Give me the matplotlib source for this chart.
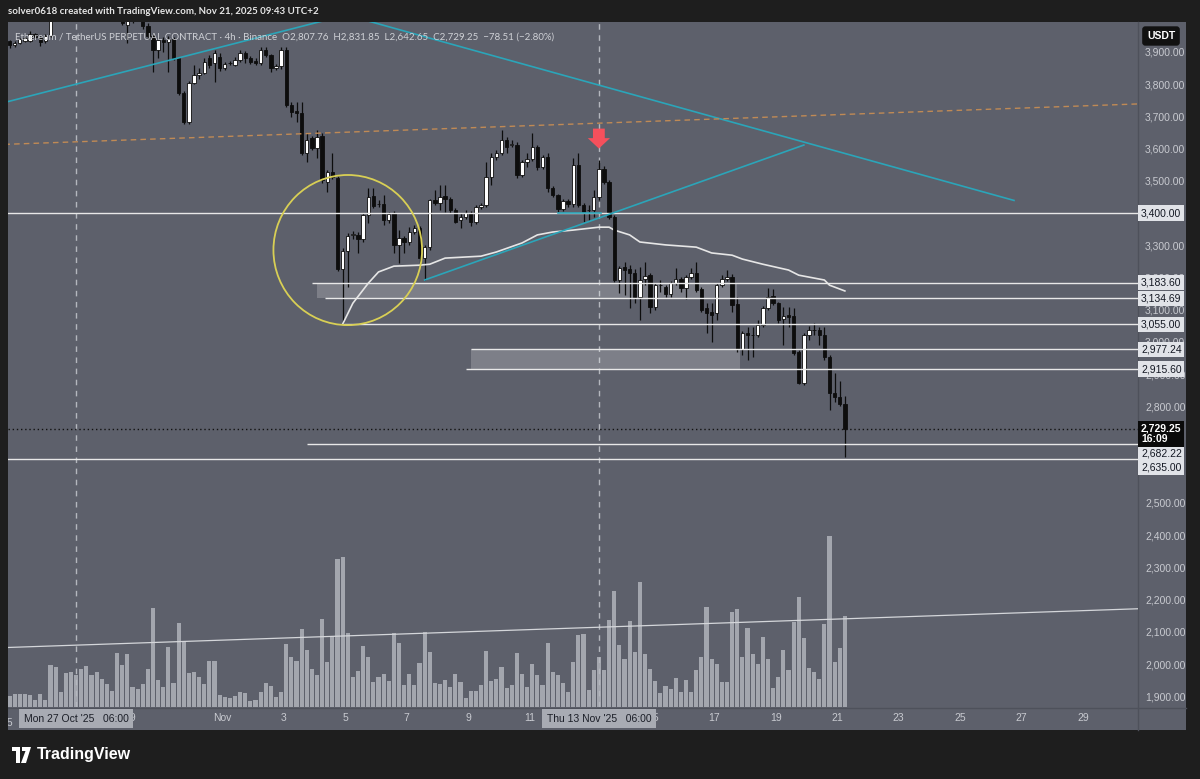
import numpy as np
import pandas as pd
import matplotlib.pyplot as plt
import matplotlib.transforms as mtransforms
from matplotlib.patches import Rectangle, Ellipse, Polygon

plt.rcParams['font.family'] = ['Liberation Sans', 'DejaVu Sans']

W, H = 1200, 779
BG = '#1e1e1e'
PANE = '#5d606b'
TXT = '#c8cad0'

# ETH/USDT perp, 4h candles, first bar opens Oct 25 02:00 (UTC+2)
start = pd.Timestamp('2025-10-25 02:00')
step = pd.Timedelta(hours=4)

open_ = [3933, 3921, 3927, 3935, 3935, 3955, 3945, 3933, 3949, 4015,
         4060, 4050, 4085, 4110, 4150, 4190, 4230, 4210, 4180, 4200,
         4170, 4140, 4090, 3985, 3996, 4040, 4025, 3980, 3950, 3907,
         3938, 3931, 3940, 3882, 3773, 3683, 3804, 3829, 3835, 3880,
         3866, 3885, 3851, 3866, 3860, 3876, 3897, 3882, 3872, 3866,
         3907, 3891, 3851, 3855, 3907, 3736, 3716, 3711, 3587, 3633,
         3602, 3639, 3496, 3527, 3509, 3226, 3282, 3332, 3332, 3319,
         3394, 3453, 3428, 3428, 3378, 3400, 3301, 3322, 3310, 3341,
         3353, 3260, 3294, 3440, 3431, 3453, 3444, 3409, 3378, 3388,
         3400, 3372, 3419, 3425, 3512, 3574, 3587, 3627, 3611, 3611,
         3518, 3559, 3568, 3605, 3543, 3574, 3478, 3456, 3412, 3437,
         3428, 3549, 3425, 3409, 3409, 3450, 3537, 3496, 3388, 3192,
         3232, 3226, 3213, 3139, 3195, 3207, 3108, 3176, 3170, 3148,
         3182, 3195, 3167, 3201, 3213, 3164, 3105, 3092, 3089, 3176,
         3195, 3201, 3117, 2977, 3027, 3021, 3021, 3052, 3105, 3142,
         3120, 3070, 3083, 3080, 2968, 2872, 3021, 3036, 3036, 3021,
         2952, 2840, 2828, 2807.76]
high = [3938, 3934, 3944, 3948, 3964, 3960, 3950, 3955, 4030, 4075,
        4090, 4100, 4130, 4165, 4210, 4250, 4245, 4220, 4215, 4210,
        4185, 4150, 4100, 4010, 4060, 4070, 4035, 3990, 3960, 3945,
        3945, 3948, 3945, 3885, 3780, 3810, 3860, 3850, 3880, 3890,
        3905, 3897, 3870, 3872, 3885, 3905, 3903, 3887, 3880, 3915,
        3915, 3895, 3862, 3916, 3915, 3745, 3745, 3745, 3649, 3640,
        3658, 3648, 3535, 3587, 3515, 3290, 3338, 3345, 3340, 3400,
        3478, 3478, 3440, 3456, 3403, 3405, 3347, 3330, 3356, 3362,
        3360, 3300, 3445, 3471, 3487, 3487, 3450, 3415, 3400, 3409,
        3405, 3425, 3432, 3559, 3585, 3595, 3658, 3635, 3627, 3620,
        3565, 3587, 3649, 3610, 3580, 3587, 3485, 3460, 3445, 3445,
        3571, 3587, 3430, 3425, 3471, 3565, 3545, 3503, 3395, 3235,
        3248, 3240, 3226, 3232, 3248, 3215, 3182, 3192, 3178, 3188,
        3229, 3200, 3207, 3229, 3248, 3170, 3120, 3120, 3182, 3207,
        3223, 3210, 3139, 3035, 3046, 3046, 3067, 3110, 3167, 3164,
        3125, 3108, 3108, 3105, 2975, 3027, 3049, 3058, 3046, 3046,
        2958, 2903, 2880, 2831.85]
low = [3913, 3916, 3924, 3932, 3930, 3940, 3918, 3928, 3945, 4005,
       4040, 4035, 4070, 4100, 4140, 4180, 4195, 4165, 4170, 4150,
       4120, 4080, 3985, 3928, 3990, 4010, 3970, 3940, 3838, 3880,
       3900, 3838, 3875, 3765, 3675, 3675, 3800, 3815, 3830, 3850,
       3807, 3840, 3845, 3860, 3855, 3870, 3866, 3862, 3860, 3860,
       3885, 3838, 3845, 3848, 3730, 3698, 3683, 3580, 3559, 3595,
       3571, 3493, 3465, 3505, 3220, 3055, 3170, 3320, 3276, 3310,
       3368, 3415, 3418, 3362, 3370, 3276, 3245, 3276, 3300, 3335,
       3245, 3192, 3285, 3425, 3409, 3403, 3400, 3368, 3353, 3380,
       3360, 3365, 3412, 3419, 3487, 3565, 3580, 3587, 3605, 3509,
       3512, 3543, 3562, 3534, 3537, 3465, 3450, 3403, 3405, 3420,
       3420, 3418, 3372, 3378, 3388, 3440, 3490, 3380, 3185, 3151,
       3145, 3105, 3120, 3067, 3176, 3089, 3100, 3154, 3140, 3140,
       3176, 3154, 3133, 3195, 3155, 3092, 3027, 2999, 3067, 3170,
       3190, 3092, 2968, 2960, 2943, 2952, 3015, 3045, 3100, 3114,
       3060, 2990, 3046, 2960, 2868, 2865, 3005, 3021, 2990, 2945,
       2788, 2812, 2800, 2642.65]
close = [3921, 3927, 3940, 3943, 3955, 3945, 3931, 3949, 4015, 4060,
         4050, 4085, 4110, 4150, 4190, 4230, 4210, 4180, 4200, 4170,
         4140, 4090, 3990, 3996, 4040, 4025, 3980, 3950, 3907, 3938,
         3931, 3940, 3882, 3773, 3683, 3804, 3829, 3835, 3869, 3860,
         3897, 3851, 3863, 3866, 3876, 3897, 3882, 3869, 3866, 3907,
         3891, 3851, 3855, 3907, 3736, 3714, 3711, 3587, 3627, 3602,
         3636, 3503, 3527, 3512, 3226, 3282, 3329, 3335, 3319, 3394,
         3450, 3422, 3428, 3378, 3397, 3301, 3322, 3310, 3341, 3353,
         3260, 3294, 3440, 3431, 3450, 3444, 3409, 3372, 3388, 3400,
         3372, 3419, 3425, 3512, 3574, 3587, 3627, 3605, 3615, 3518,
         3559, 3568, 3605, 3543, 3574, 3478, 3456, 3412, 3437, 3428,
         3549, 3425, 3403, 3409, 3450, 3537, 3496, 3388, 3192, 3229,
         3223, 3213, 3139, 3192, 3204, 3108, 3176, 3176, 3148, 3182,
         3195, 3167, 3201, 3213, 3161, 3098, 3089, 3083, 3176, 3195,
         3201, 3114, 2977, 3027, 3021, 3021, 3052, 3105, 3139, 3120,
         3067, 3080, 3077, 2965, 2872, 3021, 3036, 3036, 3021, 2952,
         2840, 2828, 2808, 2729.25]
volume_k = [10.7, 13, 13, 13, 12.3, 7.3, 13, 7.3, 42.3, 39.7,
            15, 34.3, 35, 32, 38.3, 40.7, 32, 35, 28.3, 23,
            16.3, 54.3, 42.3, 52.7, 20.3, 18.3, 23.3, 38.3, 99, 27.3,
            20.3, 60.3, 24.3, 84.3, 66.3, 34.3, 35, 30, 23.3, 46.3,
            46.3, 12.3, 10.3, 9, 11.3, 15.3, 14.3, 6.3, 7.3, 15.3,
            24.3, 21.3, 10.3, 15.3, 62.7, 49.7, 46.3, 78.3, 57, 38.3,
            32.3, 87.7, 44.7, 71, 147.7, 150.3, 74.3, 30, 36.3, 60.7,
            50.3, 25, 30, 32.7, 26, 73.7, 64, 22, 32.7, 22,
            43.7, 75, 55.3, 23.7, 22.7, 26.7, 20.3, 32.7, 25, 9,
            16, 16, 22, 56, 26, 28.3, 40.3, 19.3, 22, 54.3,
            33.3, 20.3, 43, 31.7, 22, 64, 35, 32, 24, 15.3,
            44.7, 72.3, 73, 17, 36.7, 50.3, 36.7, 87.3, 116.3, 62,
            48, 86.3, 55, 125.3, 53.3, 38, 26, 13.7, 21, 18,
            29, 14.7, 27.3, 15.3, 37.3, 49.7, 100, 48, 43, 25,
            25, 95, 98, 50.3, 79.3, 52.7, 43, 70, 48, 19.3,
            30, 57, 37.3, 85.3, 109.7, 69, 39, 35.3, 28.3, 83,
            171.3, 44.7, 58.7, 91.3]

# anchored vwap (bar index, value)
vwap_idx = [65, 67, 70, 72, 75, 80, 82, 85, 92, 95, 100, 103, 106, 110, 115,
            117, 118, 121, 123, 128, 134, 137, 141, 143, 147, 152, 154, 159, 160, 163]
vwap = [3055, 3120, 3182, 3217, 3235, 3238, 3241, 3260, 3266, 3279, 3307, 3332, 3341, 3347, 3356,
        3356, 3347, 3332, 3310, 3301, 3294, 3276, 3269, 3257, 3241, 3223, 3207, 3192, 3176, 3158]

# horizontal levels and where they were drawn from (None = whole chart)
levels = [3400.00, 3183.60, 3134.69, 3055.00, 2977.24, 2915.60, 2682.22, 2635.00]
level_from = [None, '2025-11-03 22:00', '2025-11-04 08:00', '2025-11-04 22:00',
              '2025-11-09 02:00', '2025-11-08 22:00', '2025-11-03 18:00', None]

teal_lines = [(('2025-10-25 00:00', 3745), ('2025-11-07 10:00', 4073)),
              (('2025-11-04 02:00', 4040), ('2025-11-26 18:00', 3439)),
              (('2025-11-07 14:00', 3192), ('2025-11-19 22:00', 3611)),
              (('2025-11-11 22:00', 3400), ('2025-11-13 08:00', 3400))]
orange_line = (('2025-10-24 22:00', 3613), ('2025-11-30 22:00', 3739))
vol_line = (('2025-10-24 22:00', 2051), ('2025-11-30 22:00', 2172))
zones = [('2025-11-04 02:00', '2025-11-17 18:00', 3137, 3183.6),
         ('2025-11-09 02:00', '2025-11-17 20:00', 2915.6, 2977.24)]
circle_center = ('2025-11-05 02:00', 3285)
circle_right = '2025-11-07 12:00'
circle_top = 3518
arrow_at = ('2025-11-13 06:00', 3600)
crosshairs = ['2025-10-27 06:00', '2025-11-13 06:00']
cross_labels = ["Mon 27 Oct '25   06:00", "Thu 13 Nov '25   06:00"]

# date labels (27 Oct and 13 Nov sit under the crosshair labels)
tick_days = ['2025-10-29', '2025-11-01', '2025-11-03', '2025-11-05',
             '2025-11-07', '2025-11-09', '2025-11-11', '2025-11-15',
             '2025-11-17', '2025-11-19', '2025-11-21', '2025-11-23', '2025-11-25',
             '2025-11-27', '2025-11-29']
tick_text = ['29', 'Nov', '3', '5', '7', '9', '11', '15', '17', '19',
             '21', '23', '25', '27', '29']
price_ticks = [1900, 2000, 2100, 2200, 2300, 2400, 2500, 2800, 2900, 3000,
               3100, 3200, 3300, 3500, 3600, 3700, 3800, 3900]


def tx(ts):
    return (pd.Timestamp(ts) - start) / step


def fx(px):
    return px / W


def fy(py):
    return 1 - py / H


fig = plt.figure(figsize=(12, 7.79), dpi=100, facecolor=BG)

# panes
fig.add_artist(Rectangle((fx(8), fy(730)), fx(1178), 708 / H, transform=fig.transFigure,
                         facecolor=PANE, edgecolor='none', zorder=-2))
fig.add_artist(plt.Line2D([fx(1138), fx(1138)], [fy(22), fy(730)], color='#4e515b', lw=1, zorder=-1))
fig.add_artist(plt.Line2D([fx(8), fx(1186)], [fy(707.5), fy(707.5)], color='#4e515b', lw=1, zorder=-1))

pos = [fx(8), fy(707), fx(1130), 685 / H]
xl = ((8 - 9.5) / 5.125, (1138 - 9.5) / 5.125)

# volume underneath
axv = fig.add_axes(pos)
axv.patch.set_visible(False)
idx = np.arange(len(close))
axv.bar(idx, volume_k, width=0.8, color='#a3a6ae', linewidth=0)
axv.set_xlim(*xl)
axv.set_ylim(0, 685)
axv.axis('off')

ax = fig.add_axes(pos)
ax.patch.set_visible(False)
ax.set_xlim(*xl)
ax.set_ylim(3400 - 494 * 3.104, 3400 + 191 * 3.104)
for s in ax.spines.values():
    s.set_visible(False)

# candles
o = np.array(open_)
c = np.array(close)
h = np.array(high)
l = np.array(low)
up = c >= o
ax.vlines(idx, l, h, color='#0d0d0d', lw=0.9, zorder=3)
ax.bar(idx[up], (c - o)[up], bottom=o[up], width=0.68, color='white',
       edgecolor='#0d0d0d', lw=0.6, zorder=4)
ax.bar(idx[~up], (o - c)[~up], bottom=c[~up], width=0.68, color='#0d0d0d',
       edgecolor='#0d0d0d', lw=0.6, zorder=4)

# zones
for t0, t1, p0, p1 in zones:
    ax.add_patch(Rectangle((tx(t0), p0), tx(t1) - tx(t0), p1 - p0,
                           facecolor='white', alpha=0.2, edgecolor='none', zorder=2))

# vwap
ax.plot(vwap_idx, vwap, color='#e6e6e6', lw=1.2, zorder=3.5)

# horizontal levels
for p, t0 in zip(levels, level_from):
    x0 = xl[0] - 1 if t0 is None else tx(t0)
    ax.hlines(p, x0, xl[1] + 1, color='#e8e8e8', lw=1, zorder=5)
ax.axhline(2729.25, color='#111111', lw=1, ls=(0, (1, 2)), zorder=5)

for (a, b) in teal_lines:
    ax.plot([tx(a[0]), tx(b[0])], [a[1], b[1]], color='#2ba5b9', lw=1.2, zorder=5)
ax.plot([tx(orange_line[0][0]), tx(orange_line[1][0])],
        [orange_line[0][1], orange_line[1][1]], color='#c08a55', lw=1, ls=(0, (4, 3)), zorder=5)
ax.plot([tx(vol_line[0][0]), tx(vol_line[1][0])], [vol_line[0][1], vol_line[1][1]],
        color='#d4d6da', lw=0.9, zorder=5)

cx = tx(circle_center[0])
ax.add_patch(Ellipse((cx, circle_center[1]), 2 * (tx(circle_right) - cx),
                     2 * (circle_top - circle_center[1]), fill=False,
                     edgecolor='#d8cf55', lw=1.3, zorder=5))

ax.annotate('', xy=(tx(arrow_at[0]), arrow_at[1]), xytext=(tx(arrow_at[0]), arrow_at[1] + 62),
            arrowprops=dict(arrowstyle='simple,head_length=0.75,head_width=1.6,tail_width=0.85',
                            fc='#f5505c', ec='none', shrinkA=0, shrinkB=0), zorder=6)

for t in crosshairs:
    ax.axvline(tx(t), color='#b4b7be', lw=1, ls=(0, (4, 4)), zorder=1)

# axes ticks
ax.yaxis.tick_right()
ax.set_yticks(price_ticks, [f'{v:,.2f}' for v in price_ticks])
ax.tick_params(axis='y', length=0, pad=5, labelsize=7.5, labelcolor=TXT)
ax.set_xticks([tx(d) for d in tick_days], tick_text)
ax.tick_params(axis='x', length=0, pad=4, labelsize=7.5, labelcolor=TXT)
ax.text(tx('2025-10-25'), -0.016, '25', transform=mtransforms.blended_transform_factory(ax.transData, ax.transAxes),
        ha='center', va='top', fontsize=7.5, color=TXT, clip_on=False)

# price labels on the scale
ytr = mtransforms.blended_transform_factory(fig.transFigure, ax.transData)
shift = {2682.22: -6.5, 2635.00: -5.5}
for p in levels:
    ax.annotate(f'{p:,.2f}', xy=(fx(1141), p), xycoords=ytr, xytext=(0, shift.get(p, 0)),
                textcoords='offset points', ha='left', va='center', fontsize=7.5, color='#131722',
                bbox=dict(boxstyle='square,pad=0.25', fc='#e1e3e8', ec='none'), zorder=10,
                annotation_clip=False)
ax.annotate('2,729.25\n16:09', xy=(fx(1141), 2729.25), xycoords=ytr, xytext=(0, 4),
            textcoords='offset points', ha='left', va='top', fontsize=7.5, color='white',
            fontweight='bold', linespacing=1.05,
            bbox=dict(boxstyle='square,pad=0.25', fc='#0a0a0a', ec='none'), zorder=10,
            annotation_clip=False)

# crosshair date labels
xtr = mtransforms.blended_transform_factory(ax.transData, fig.transFigure)
for t, s in zip(crosshairs, cross_labels):
    fig.text(tx(t), fy(718.5), s, transform=xtr, ha='center', va='center',
             fontsize=7.5, color='#1b1e27',
             bbox=dict(boxstyle='square,pad=0.45', fc='#a8abb3', ec='none'), zorder=10)

# covers outside the pane
fig.add_artist(Rectangle((0, fy(730)), fx(8), 730 / H, transform=fig.transFigure,
                         facecolor=BG, edgecolor='none', zorder=9))

fig.text(fx(1161), fy(36), 'USDT', ha='center', va='center', fontsize=7.5, color='white',
         fontweight='bold', bbox=dict(boxstyle='round,pad=0.45,rounding_size=0.3', fc='#111111', ec='none'),
         zorder=11)

fig.text(fx(8), fy(12), 'solver0618 created with TradingView.com, Nov 21, 2025 09:43 UTC+2',
         ha='left', va='center', fontsize=7.0, fontweight='bold', family=['Lato', 'DejaVu Sans'],
         color='#e6e6e6', zorder=11)
fig.text(fx(15), fy(37), 'Ethereum / TetherUS PERPETUAL CONTRACT · 4h · Binance  O2,807.76  H2,831.85  '
         'L2,642.65  C2,729.25  \u221278.51 (\u22122.80%)',
         ha='left', va='center', fontsize=7.0, family=['Lato', 'DejaVu Sans'],
         color='#cfd1d6', zorder=11)

# logo
logo1 = [(12, 747), (20, 747), (20, 763), (16, 763), (16, 751), (12, 751)]
logo2 = [(22, 747), (31, 747), (26, 763), (21, 763), (25.5, 751), (22, 751)]
for pts in (logo1, logo2):
    fig.add_artist(Polygon([(fx(a), fy(b)) for a, b in pts], closed=True, transform=fig.transFigure,
                           facecolor='white', edgecolor='none', zorder=11))
fig.text(fx(37), fy(755), 'TradingView', ha='left', va='center', fontsize=11.5,
         fontweight='bold', color='white', zorder=11)

fig.savefig('out.png', dpi=100, facecolor=BG)
